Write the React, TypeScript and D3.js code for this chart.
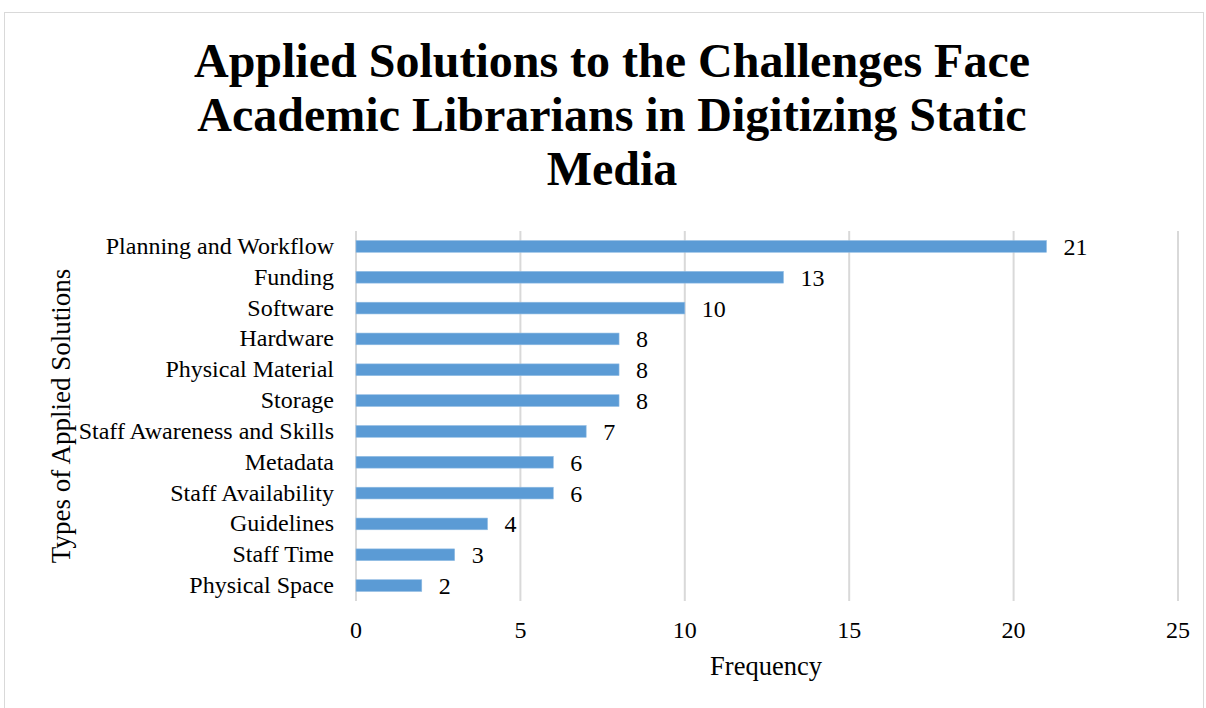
import React from "react";
import * as d3 from "d3";

const categories = [
  "Planning and Workflow",
  "Funding",
  "Software",
  "Hardware",
  "Physical Material",
  "Storage",
  "Staff Awareness and Skills",
  "Metadata",
  "Staff Availability",
  "Guidelines",
  "Staff Time",
  "Physical Space",
];
const values = [21, 13, 10, 8, 8, 8, 7, 6, 6, 4, 3, 2];
const xTicks = [0, 5, 10, 15, 20, 25];
const titleLines = [
  "Applied Solutions to the Challenges Face",
  "Academic Librarians in Digitizing Static",
  "Media",
];

const W = 1206;
const H = 708;
const left = 356;
const right = 1178;
const top = 231;
const bottom = 601;
const FONT = "'Liberation Serif', 'Times New Roman', serif";

export default function App() {
  const x = d3.scaleLinear().domain([0, 25]).range([left, right]);
  const y = d3
    .scaleBand<string>()
    .domain(categories)
    .range([top, bottom])
    .paddingInner(0.62)
    .paddingOuter(0.31);
  const bh = y.bandwidth();

  return (
    <svg
      width={W}
      height={H}
      style={{ position: "absolute", left: 0, top: 0, background: "#fff" }}
      fontFamily={FONT}
    >
      <rect x={4.5} y={12.5} width={1199} height={720} fill="#fff" stroke="#d9d9d9" strokeWidth={1} />
      {titleLines.map((t, i) => (
        <text
          key={i}
          x={612}
          y={77 + i * 54}
          textAnchor="middle"
          fontSize={48}
          fontWeight="bold"
          fill="#000"
        >
          {t}
        </text>
      ))}
      {xTicks.map((t) => (
        <g key={t}>
          <line x1={x(t)} x2={x(t)} y1={top} y2={bottom} stroke="#d9d9d9" strokeWidth={2} />
          <text x={x(t)} y={638} textAnchor="middle" fontSize={24} fill="#000">
            {t}
          </text>
        </g>
      ))}
      {categories.map((c, i) => {
        const yc = (y(c) as number) + bh / 2;
        return (
          <g key={c}>
            <rect
              x={x(0)}
              y={y(c) as number}
              width={x(values[i]) - x(0)}
              height={bh}
              fill="#5b9bd5"
              stroke="#8fbbe3"
              strokeWidth={0.6}
            />
            <text x={334} y={yc + 7.5} textAnchor="end" fontSize={24} fill="#000">
              {c}
            </text>
            <text x={x(values[i]) + 17} y={yc + 8.5} textAnchor="start" fontSize={24} fill="#000">
              {values[i]}
            </text>
          </g>
        );
      })}
      <text x={766} y={675} textAnchor="middle" fontSize={26.5} fill="#000">
        Frequency
      </text>
      <text
        transform={`translate(70, 416) rotate(-90)`}
        textAnchor="middle"
        fontSize={27}
        fill="#000"
      >
        Types of Applied Solutions
      </text>
    </svg>
  );
}
